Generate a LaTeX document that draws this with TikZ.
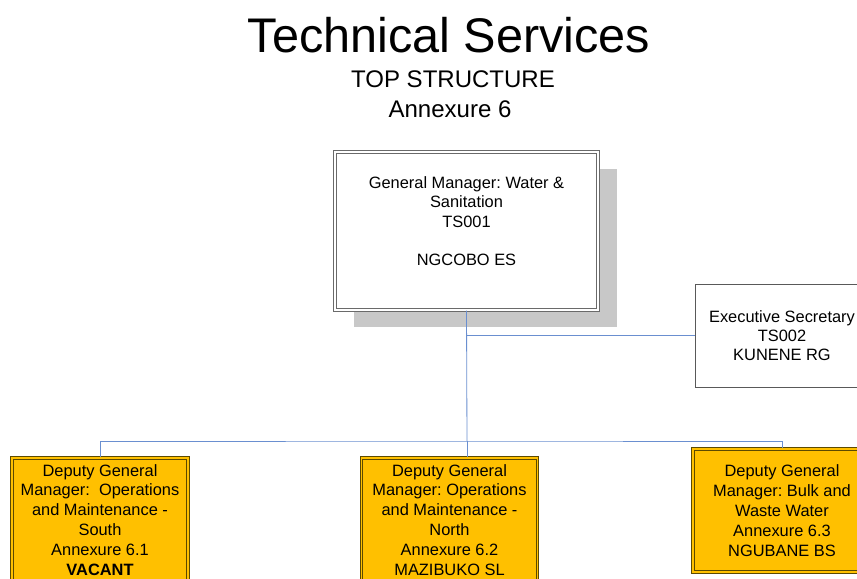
\documentclass[tikz,border=0pt]{standalone}
\usepackage{fontspec}
\setmainfont{Liberation Sans}
\frenchspacing
\usetikzlibrary{shadows}
\definecolor{dgmorange}{HTML}{FFC000}
\definecolor{dgmborder}{HTML}{5C4A00}
\definecolor{gmborder}{HTML}{6A6A6A}
\definecolor{shadowgray}{HTML}{C8C8C8}
\definecolor{linkblue}{HTML}{6A8FD0}
\begin{document}
\begin{tikzpicture}[x=0.03cm, y=-0.03cm,
  box/.style={align=center, font=\fontsize{14}{16.5}\selectfont, inner sep=2pt},
  gmbox/.style={box, draw=gmborder, double=white, double distance=0.9pt, line width=1.1pt, fill=white,
    general shadow={fill=shadowgray, shadow xshift=0.57cm, shadow yshift=-0.51cm},
    minimum width=7.89cm, minimum height=4.74cm},
  secbox/.style={box, draw=gray!70!black, line width=0.8pt, fill=white, minimum width=5.22cm, minimum height=3.09cm},
  dgmbox/.style={box, font=\fontsize{14}{17}\selectfont, draw=dgmborder, double=dgmorange, double distance=1.3pt,
    line width=0.9pt, fill=dgmorange, minimum width=5.28cm},
  link/.style={draw=linkblue, line width=0.7pt}]
\useasboundingbox (0,0) rectangle (857,578);
\clip (0,0) rectangle (857,578);
% titel
\node[anchor=base, font=\fontsize{41.5}{45}\selectfont] (title) at (449,52) {Technical Services};
\node[anchor=base, font=\fontsize{20.5}{24}\selectfont] (sub) at (453,87) {TOP STRUCTURE};
\node[anchor=base, font=\fontsize{20.5}{24}\selectfont] (annex) at (450,117) {Annexure 6};
% boxes
\node[gmbox] (gm) at (466.5,231) {General Manager: Water \&\\Sanitation\\TS001\\ \\NGCOBO ES\\ };
\node[secbox] (exec) at (782,335.5) {Executive Secretary\\TS002\\KUNENE RG};
\node[dgmbox, minimum height=3.72cm] (south) at (100,520) {Deputy General\\Manager:\ \ Operations\\and Maintenance -\\South\\Annexure 6.1\\\textbf{VACANT}};
\node[dgmbox, minimum height=3.72cm] (north) at (449.5,520) {Deputy General\\Manager: Operations\\and Maintenance -\\North\\Annexure 6.2\\MAZIBUKO SL};
\node[dgmbox, minimum height=3.69cm, minimum width=5.34cm] (bulk) at (782,510.5) {Deputy General\\Manager: Bulk and\\Waste Water\\Annexure 6.3\\NGUBANE BS};
% lines
\coordinate (bus) at (467,441);
\draw[link] (gm.south) -- (bus);
\draw[link] (gm.south |- exec.west) -- (exec.west);
\draw[link] (south.north) |- (bus) -| (bulk.north);
\draw[link] (bus) -- (bus |- north.north);
\end{tikzpicture}
\end{document}
